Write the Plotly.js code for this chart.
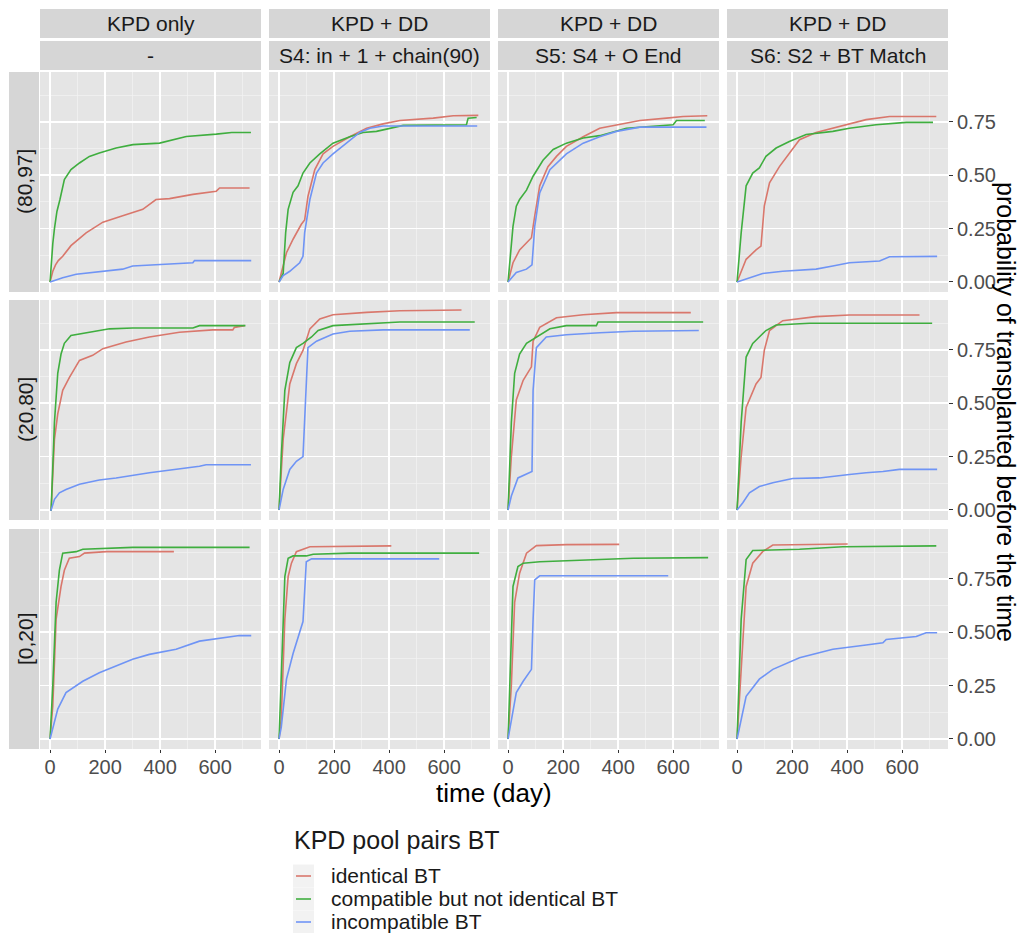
<!DOCTYPE html>
<html><head><meta charset="utf-8">
<script src="https://cdn.plot.ly/plotly-3.0.1.min.js"></script>
<style>html,body{margin:0;padding:0;background:#fff}#chart{width:1022px;height:933px}</style>
</head><body><div id="chart"></div>
<script>
// ---- facet labels ----
const rowLabels = ["(80,97]", "(20,80]", "[0,20]"];
const colTop = ["KPD only", "KPD + DD", "KPD + DD", "KPD + DD"];
const colSub = ["-", "S4: in + 1 + chain(90)", "S5: S4 + O End", "S6: S2 + BT Match"];
const seriesNames = ["identical BT", "compatible but not identical BT", "incompatible BT"];
const legendTitle = "KPD pool pairs BT";
const xTicks = [0, 200, 400, 600];
const yTicks = [0, 0.25, 0.5, 0.75];

// ---- row (80,97] ----
const r1c1_ident_t = [0,10,20,30,46,76,131,192,264,337,385,434,519,604,616,725];
const r1c1_ident_p = [0,.05,.08,.10,.12,.17,.23,.28,.31,.34,.386,.39,.41,.425,.44,.44];
const r1c1_comp_t = [0,4,10,16,25,36,52,76,107,143,179,240,301,398,446,495,604,660,730];
const r1c1_comp_p = [0,.08,.18,.25,.33,.386,.479,.526,.557,.588,.604,.627,.643,.65,.666,.681,.692,.70,.70];
const r1c1_inc_t = [0,46,95,179,264,300,398,519,525,731];
const r1c1_inc_p = [0,.02,.036,.047,.06,.075,.082,.09,.10,.10];

const r1c2_ident_t = [0,27,51,81,93,105,130,160,196,257,318,378,439,560,633,724];
const r1c2_ident_p = [0,.137,.20,.27,.29,.40,.526,.60,.635,.68,.72,.74,.756,.767,.778,.78];
const r1c2_comp_t = [0,15,24,33,51,69,87,112,148,196,257,305,354,402,451,681,687,718];
const r1c2_comp_p = [0,.04,.23,.34,.42,.45,.51,.557,.60,.65,.68,.70,.705,.72,.733,.736,.767,.77];
const r1c2_inc_t = [0,15,39,75,87,93,112,136,160,196,245,293,330,378,720];
const r1c2_inc_p = [0,.03,.05,.09,.12,.23,.386,.51,.557,.60,.65,.70,.72,.73,.73];

const r1c3_ident_t = [0,18,42,85,97,115,145,176,212,273,333,394,479,576,636,724];
const r1c3_ident_p = [0,.09,.15,.207,.31,.45,.54,.588,.635,.68,.72,.736,.756,.767,.775,.778];
const r1c3_comp_t = [0,18,30,42,67,91,127,164,212,273,333,430,600,612,715];
const r1c3_comp_p = [0,.26,.355,.386,.43,.495,.57,.62,.65,.674,.685,.72,.736,.756,.756];
const r1c3_inc_t = [0,30,67,87,97,115,152,212,273,333,394,479,721];
const r1c3_inc_p = [0,.044,.06,.08,.26,.417,.526,.60,.65,.68,.705,.725,.725];

const r1c4_ident_t = [0,33,69,87,99,118,154,190,227,287,348,469,554,724];
const r1c4_ident_p = [0,.106,.15,.168,.355,.464,.54,.604,.666,.70,.72,.76,.775,.775];
const r1c4_comp_t = [0,15,33,57,81,105,142,190,251,348,408,505,615,712];
const r1c4_comp_p = [0,.23,.45,.51,.534,.588,.627,.658,.69,.705,.72,.736,.747,.747];
const r1c4_inc_t = [0,45,93,166,287,348,408,518,554,727];
const r1c4_inc_p = [0,.02,.04,.05,.06,.075,.09,.098,.118,.12];

// ---- row (20,80] ----
const r2c1_ident_t = [0,4,16,28,46,70,107,155,192,276,361,470,591,664,670,707];
const r2c1_ident_p = [0,0,.33,.45,.56,.62,.70,.724,.755,.786,.81,.832,.843,.843,.855,.863];
const r2c1_comp_t = [0,4,16,28,40,52,76,131,216,300,519,543,710];
const r2c1_comp_p = [0,0,.41,.64,.73,.78,.817,.83,.848,.852,.852,.863,.863];
const r2c1_inc_t = [0,4,16,34,58,107,179,240,361,458,543,567,730];
const r2c1_inc_p = [0,0,.05,.08,.096,.12,.14,.15,.174,.19,.205,.212,.212];

const r2c2_ident_t = [0,15,39,63,87,112,148,196,318,439,663];
const r2c2_ident_p = [0,.33,.59,.685,.747,.848,.894,.914,.925,.933,.936];
const r2c2_comp_t = [0,8,21,39,63,87,118,142,196,318,439,711];
const r2c2_comp_p = [0,.25,.56,.69,.76,.78,.81,.84,.863,.87,.88,.88];
const r2c2_inc_t = [0,15,39,63,87,93,105,136,196,257,378,693];
const r2c2_inc_p = [0,.096,.19,.228,.25,.41,.76,.79,.824,.837,.843,.843];

const r2c3_ident_t = [0,12,30,55,85,91,115,176,273,394,664];
const r2c3_ident_p = [0,.25,.515,.607,.67,.79,.855,.90,.914,.924,.924];
const r2c3_comp_t = [0,12,24,42,67,103,152,212,321,327,709];
const r2c3_comp_p = [0,.41,.64,.73,.78,.81,.848,.863,.863,.88,.88];
const r2c3_inc_t = [0,12,36,67,87,91,103,139,212,333,455,693];
const r2c3_inc_p = [0,.065,.15,.166,.18,.56,.76,.81,.82,.83,.837,.84];

const r2c4_ident_t = [0,15,33,69,87,99,118,166,287,408,663];
const r2c4_ident_p = [0,.25,.48,.59,.62,.747,.84,.886,.905,.913,.913];
const r2c4_comp_t = [0,15,33,57,81,105,142,263,709];
const r2c4_comp_p = [0,.41,.716,.78,.81,.84,.866,.874,.874];
const r2c4_inc_t = [0,21,45,81,130,202,299,348,408,469,530,590,727];
const r2c4_inc_p = [0,.034,.08,.11,.127,.147,.15,.158,.166,.174,.18,.19,.19];

// ---- row [0,20] ----
const r3c1_ident_t = [0,10,22,40,52,70,107,125,204,450];
const r3c1_ident_p = [0,.155,.56,.714,.79,.846,.854,.87,.877,.877];
const r3c1_comp_t = [0,10,22,34,46,95,119,300,725];
const r3c1_comp_p = [0,.25,.64,.79,.87,.877,.888,.897,.897];
const r3c1_inc_t = [0,10,28,58,119,179,240,300,361,398,458,543,591,664,688,731];
const r3c1_inc_p = [0,.047,.14,.217,.27,.31,.34,.373,.396,.404,.42,.458,.466,.478,.484,.484];

const r3c2_ident_t = [0,8,21,33,45,63,112,408];
const r3c2_ident_p = [0,.093,.56,.76,.823,.877,.90,.904];
const r3c2_comp_t = [0,8,21,33,51,99,124,257,727];
const r3c2_comp_p = [0,.326,.76,.846,.857,.857,.865,.87,.87];
const r3c2_inc_t = [0,8,27,51,87,93,99,118,582];
const r3c2_inc_p = [0,.054,.28,.40,.55,.714,.83,.843,.843];

const r3c3_ident_t = [0,12,24,42,67,103,212,404];
const r3c3_ident_p = [0,.25,.64,.776,.87,.905,.91,.911];
const r3c3_comp_t = [0,6,18,36,55,115,273,455,727];
const r3c3_comp_p = [0,.28,.714,.807,.823,.83,.838,.846,.849];
const r3c3_inc_t = [0,12,30,55,85,91,97,115,582];
const r3c3_inc_p = [0,.093,.217,.27,.326,.56,.745,.764,.764];

const r3c4_ident_t = [0,15,33,57,93,130,402];
const r3c4_ident_p = [0,.326,.714,.823,.877,.908,.913];
const r3c4_comp_t = [0,15,33,57,227,384,724];
const r3c4_comp_p = [0,.56,.84,.882,.888,.90,.904];
const r3c4_inc_t = [0,15,33,81,130,227,348,469,530,542,651,687,727];
const r3c4_inc_p = [0,.093,.20,.28,.326,.38,.42,.44,.45,.466,.48,.497,.497];

const panels = [
  [[r1c1_ident_t,r1c1_ident_p],[r1c1_comp_t,r1c1_comp_p],[r1c1_inc_t,r1c1_inc_p]],
  [[r1c2_ident_t,r1c2_ident_p],[r1c2_comp_t,r1c2_comp_p],[r1c2_inc_t,r1c2_inc_p]],
  [[r1c3_ident_t,r1c3_ident_p],[r1c3_comp_t,r1c3_comp_p],[r1c3_inc_t,r1c3_inc_p]],
  [[r1c4_ident_t,r1c4_ident_p],[r1c4_comp_t,r1c4_comp_p],[r1c4_inc_t,r1c4_inc_p]],
  [[r2c1_ident_t,r2c1_ident_p],[r2c1_comp_t,r2c1_comp_p],[r2c1_inc_t,r2c1_inc_p]],
  [[r2c2_ident_t,r2c2_ident_p],[r2c2_comp_t,r2c2_comp_p],[r2c2_inc_t,r2c2_inc_p]],
  [[r2c3_ident_t,r2c3_ident_p],[r2c3_comp_t,r2c3_comp_p],[r2c3_inc_t,r2c3_inc_p]],
  [[r2c4_ident_t,r2c4_ident_p],[r2c4_comp_t,r2c4_comp_p],[r2c4_inc_t,r2c4_inc_p]],
  [[r3c1_ident_t,r3c1_ident_p],[r3c1_comp_t,r3c1_comp_p],[r3c1_inc_t,r3c1_inc_p]],
  [[r3c2_ident_t,r3c2_ident_p],[r3c2_comp_t,r3c2_comp_p],[r3c2_inc_t,r3c2_inc_p]],
  [[r3c3_ident_t,r3c3_ident_p],[r3c3_comp_t,r3c3_comp_p],[r3c3_inc_t,r3c3_inc_p]],
  [[r3c4_ident_t,r3c4_ident_p],[r3c4_comp_t,r3c4_comp_p],[r3c4_inc_t,r3c4_inc_p]]
];

// ---- styling / geometry ----
const W = 1022, H = 933;
const FONT = '"Liberation Sans", Arial, Helvetica, sans-serif';
const colors = ['#D9776C', '#3FAE3F', '#6F94F5'];
const colLeft = [40, 269, 498, 727], colW = 221;
const rowTop = [72, 300, 529], rowH = 220;
const fx = px => px / W, fy = px => 1 - px / H;

const traces = [];
const layout = {
  width: W, height: H,
  margin: {l: 0, r: 0, t: 0, b: 0},
  paper_bgcolor: '#ffffff', plot_bgcolor: '#E5E5E5',
  font: {family: FONT, color: '#1A1A1A'},
  showlegend: false,
  shapes: [], annotations: []
};

for (let r = 0; r < 3; r++) {
  for (let c = 0; c < 4; c++) {
    const k = r * 4 + c + 1;
    const xa = k === 1 ? 'x' : 'x' + k, ya = k === 1 ? 'y' : 'y' + k;
    const xn = k === 1 ? 'xaxis' : 'xaxis' + k, yn = k === 1 ? 'yaxis' : 'yaxis' + k;
    layout[xn] = {
      domain: [fx(colLeft[c]), fx(colLeft[c] + colW)], anchor: ya,
      range: [-36.5, 766.5], tickvals: xTicks, showticklabels: r === 2,
      ticks: r === 2 ? 'outside' : '', ticklen: 3, tickcolor: '#333333', tickwidth: 1,
      ticklabelstandoff: -3,
      tickfont: {size: 20, color: '#4D4D4D', family: FONT},
      showgrid: true, gridcolor: '#FFFFFF', gridwidth: 1.5, zeroline: false, showline: false,
      minor: {dtick: 100, tick0: 0, showgrid: true, gridcolor: '#F4F4F4', gridwidth: 0.7, ticks: ''},
      fixedrange: true
    };
    layout[yn] = {
      domain: [fy(rowTop[r] + rowH), fy(rowTop[r])], anchor: xa, side: 'right',
      range: [-0.047, 0.983], tickvals: yTicks, tickformat: '.2f', showticklabels: c === 3,
      ticks: c === 3 ? 'outside' : '', ticklen: 4, tickcolor: '#333333', tickwidth: 1,
      tickfont: {size: 20, color: '#4D4D4D', family: FONT},
      showgrid: true, gridcolor: '#FFFFFF', gridwidth: 1.5, zeroline: false, showline: false,
      minor: {dtick: 0.125, tick0: 0, showgrid: true, gridcolor: '#F4F4F4', gridwidth: 0.7, ticks: ''},
      fixedrange: true
    };
    panels[k - 1].forEach((s, i) => {
      traces.push({
        type: 'scatter', mode: 'lines', x: s[0], y: s[1], xaxis: xa, yaxis: ya,
        name: seriesNames[i], showlegend: false,
        line: {color: colors[i], width: 1.6}, hoverinfo: 'skip'
      });
    });
  }
}

// top strips
for (let c = 0; c < 4; c++) {
  const x0 = colLeft[c], x1 = colLeft[c] + colW;
  [[9, 38, colTop[c]], [41, 70, colSub[c]]].forEach(([y0, y1, txt]) => {
    layout.shapes.push({type: 'rect', xref: 'paper', yref: 'paper', x0: fx(x0), x1: fx(x1), y0: fy(y1), y1: fy(y0),
      fillcolor: '#D6D6D6', line: {width: 0}, layer: 'below'});
    layout.annotations.push({xref: 'paper', yref: 'paper', x: fx((x0 + x1) / 2), y: fy((y0 + y1) / 2 + 0.5),
      xanchor: 'center', yanchor: 'middle', text: txt, showarrow: false,
      font: {size: 21, color: '#1A1A1A', family: FONT}});
  });
}
// left strips
for (let r = 0; r < 3; r++) {
  const y0 = rowTop[r], y1 = rowTop[r] + rowH;
  layout.shapes.push({type: 'rect', xref: 'paper', yref: 'paper', x0: fx(9), x1: fx(39), y0: fy(y1), y1: fy(y0),
    fillcolor: '#D6D6D6', line: {width: 0}, layer: 'below'});
  layout.annotations.push({xref: 'paper', yref: 'paper', x: fx(25), y: fy((y0 + y1) / 2),
    xanchor: 'center', yanchor: 'middle', text: rowLabels[r], textangle: -90, showarrow: false,
    font: {size: 21, color: '#1A1A1A', family: FONT}});
}
// axis titles
layout.annotations.push({xref: 'paper', yref: 'paper', x: fx(494), y: fy(793), xanchor: 'center', yanchor: 'middle',
  text: 'time (day)', showarrow: false, font: {size: 26, color: '#000000', family: FONT}});
layout.annotations.push({xref: 'paper', yref: 'paper', x: fx(1006), y: fy(412), xanchor: 'center', yanchor: 'middle',
  text: 'probability of transplanted before the time', textangle: 90, showarrow: false,
  font: {size: 25, color: '#000000', family: FONT}});

// legend (ggplot-style, bottom)
layout.annotations.push({xref: 'paper', yref: 'paper', x: fx(292), y: fy(840), xanchor: 'left', yanchor: 'middle',
  text: legendTitle, showarrow: false, font: {size: 25, color: '#1A1A1A', family: FONT}});
seriesNames.forEach((nm, i) => {
  const yc = 876 + i * 23;
  layout.shapes.push({type: 'rect', xref: 'paper', yref: 'paper', x0: fx(293), x1: fx(314),
    y0: fy(yc + 11.5), y1: fy(yc - 11.5), fillcolor: '#F2F2F2', line: {width: 0}, layer: 'below'});
  layout.shapes.push({type: 'line', xref: 'paper', yref: 'paper', x0: fx(296), x1: fx(311),
    y0: fy(yc), y1: fy(yc), line: {color: colors[i], width: 1.6}});
  layout.annotations.push({xref: 'paper', yref: 'paper', x: fx(329), y: fy(yc - 1), xanchor: 'left', yanchor: 'middle',
    text: nm, showarrow: false, font: {size: 21, color: '#1A1A1A', family: FONT}});
});

Plotly.newPlot('chart', traces, layout, {staticPlot: true, displayModeBar: false});
</script>
</body></html>
